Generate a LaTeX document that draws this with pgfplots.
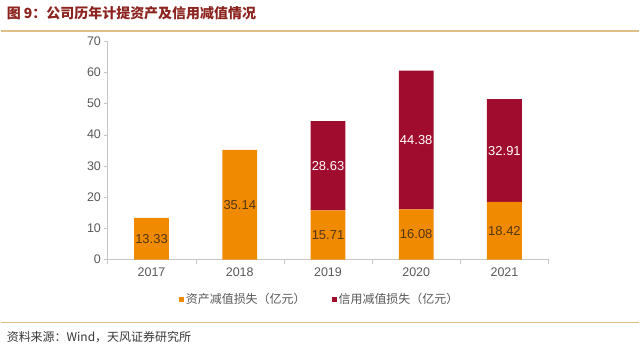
\documentclass[border=0pt]{standalone}
\usepackage{pgfplots}
\pgfplotsset{compat=1.18}
\usepackage{fontspec}
\setmainfont{Liberation Sans}
\newfontfamily\cjk{Noto Sans CJK SC}
\definecolor{org}{RGB}{240,138,0}
\definecolor{crd}{RGB}{160,12,45}
\definecolor{ttl}{RGB}{140,35,30}
\definecolor{gline}{RGB}{222,192,135}
\definecolor{tgrey}{RGB}{89,89,89}
\definecolor{lbl}{RGB}{85,55,20}
\begin{document}
\begin{tikzpicture}
\fill[white] (0pt,0pt) rectangle (640pt,351pt);
\node[anchor=west, text=ttl, font=\cjk\bfseries\fontsize{14}{16}\selectfont, inner sep=0pt] at (6pt,338pt) {图 9：公司历年计提资产及信用减值情况};
\draw[gline, line width=1.2pt] (0pt,320pt) -- (640pt,320pt);
\draw[gline, line width=1pt] (0pt,27.5pt) -- (640pt,27.5pt);
\node[anchor=west, text=black!78, font=\cjk\fontsize{12}{14}\selectfont, inner sep=0pt] at (6pt,13.5pt) {资料来源：Wind，天风证券研究所};
\begin{axis}[
  at={(151.2pt,91pt)}, anchor=origin,
  scale only axis, width=442pt, height=219pt,
  ybar stacked, bar width=35pt,
  xmin=-0.5, xmax=4.5, ymin=0, ymax=70,
  xtick={0,1,2,3,4}, xticklabels={2017,2018,2019,2020,2021},
  minor xtick={-0.5,0.5,1.5,2.5,3.5,4.5},
  ytick={0,10,...,70},
  /pgf/number format/assume math mode=true,
  axis x line*=bottom, axis y line*=left,
  axis line style={draw=gray!45, line width=0.8pt},
  tick align=outside,
  major tick length=3pt, minor tick length=4pt,
  x tick style={draw=none}, minor x tick style={draw=gray!45},
  y tick style={draw=gray!45},
  tick label style={text=tgrey, font=\fontsize{12.5}{14}\selectfont},
  xticklabel style={yshift=-2pt},
  legend style={draw=none, at={(axis description cs:0.481,-0.183)}, anchor=center,
    legend columns=2, font=\cjk\fontsize{12}{14}\selectfont, text=tgrey,
    /tikz/every even column/.append style={column sep=24pt}},
  legend image code/.code={\fill[#1] (1pt,-2.5pt) rectangle (6pt,2.5pt);},
]
\addplot[fill=org, draw=none] coordinates {(0,13.33) (1,35.14) (2,15.71) (3,16.08) (4,18.42)};
\addplot[fill=crd, draw=none] coordinates {(0,0) (1,0) (2,28.63) (3,44.38) (4,32.91)};
\legend{资产减值损失（亿元）,信用减值损失（亿元）}
\end{axis}
\begin{axis}[
  at={(151.2pt,91pt)}, anchor=origin,
  scale only axis, width=442pt, height=219pt,
  xmin=-0.5, xmax=4.5, ymin=0, ymax=70, hide axis,
  nodes near coords, point meta=explicit symbolic,
  every node near coord/.append style={anchor=center, font=\fontsize{13}{15}\selectfont},
]
\addplot[only marks, mark=none, every node near coord/.append style={text=lbl}] coordinates {(0,6.665)[13.33] (1,17.57)[35.14] (2,7.855)[15.71] (3,8.04)[16.08] (4,9.21)[18.42]};
\addplot[only marks, mark=none, every node near coord/.append style={text=white}] coordinates {(2,30.025)[28.63] (3,38.27)[44.38] (4,34.875)[32.91]};
\end{axis}
\end{tikzpicture}
\end{document}
